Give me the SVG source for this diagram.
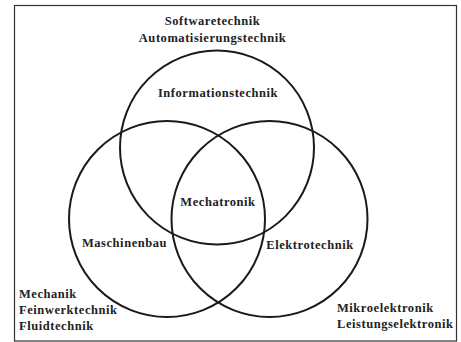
<svg xmlns="http://www.w3.org/2000/svg" width="461" height="342" viewBox="0 0 461 342">
<style>
text{font-family:"Liberation Serif","Times New Roman",serif;font-weight:bold;font-size:12.5px;letter-spacing:0.55px;fill:#222}
.c{fill:none;stroke:#1a1a1a;stroke-width:2}
.m{text-anchor:middle}
</style>
<rect x="0" y="0" width="461" height="342" fill="#fff"/>
<rect x="14.5" y="5.5" width="442" height="335.5" fill="none" stroke="#333" stroke-width="1.2"/>
<g id="connectors"></g>
<g id="informationstechnik">
<circle class="c" cx="217" cy="147.5" r="97"/>
<text class="m" x="218" y="97">Informationstechnik</text>
<text class="m" x="212.5" y="25">Softwaretechnik</text>
<text class="m" x="212.5" y="42">Automatisierungstechnik</text>
</g>
<g id="maschinenbau">
<circle class="c" cx="167" cy="219" r="98"/>
<text class="m" x="124.5" y="247">Maschinenbau</text>
<text x="19" y="298">Mechanik</text>
<text x="19" y="314">Feinwerktechnik</text>
<text x="19" y="330">Fluidtechnik</text>
</g>
<g id="elektrotechnik">
<circle class="c" cx="269.5" cy="219" r="98"/>
<text class="m" x="310" y="249">Elektrotechnik</text>
<text x="337" y="312">Mikroelektronik</text>
<text x="337" y="328">Leistungselektronik</text>
</g>
<g id="mechatronik">
<text class="m" x="218" y="206">Mechatronik</text>
</g>
</svg>
